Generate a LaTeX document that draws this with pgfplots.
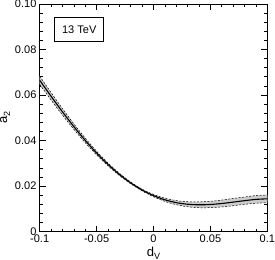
\documentclass[border=0pt]{standalone}
\usepackage{fontspec}
\setmainfont{Liberation Sans}
\usepackage{pgfplots}
\usepackage{pgfplotstable}
\pgfplotsset{compat=1.18}
\usepgfplotslibrary{fillbetween}

\pgfplotstableread{
x      c        lo       hi
-0.10  0.06650  0.06470  0.06830
-0.09  0.05944  0.05784  0.06104
-0.08  0.05261  0.05121  0.05401
-0.07  0.04612  0.04492  0.04732
-0.06  0.04006  0.03906  0.04106
-0.05  0.03450  0.03370  0.03530
-0.04  0.02951  0.02891  0.03011
-0.03  0.02512  0.02462  0.02562
-0.02  0.02137  0.02097  0.02177
-0.01  0.01826  0.01786  0.01866
0.00   0.01580  0.01530  0.01630
0.01   0.01396  0.01326  0.01466
0.02   0.01271  0.01181  0.01361
0.03   0.01200  0.01090  0.01310
0.04   0.01176  0.01046  0.01306
0.05   0.01190  0.01050  0.01330
0.06   0.01233  0.01083  0.01383
0.07   0.01294  0.01134  0.01454
0.08   0.01358  0.01198  0.01518
0.09   0.01413  0.01243  0.01583
0.10   0.01440  0.01270  0.01610
}\data

\begin{document}
\begin{tikzpicture}
\begin{axis}[
  scale only axis,
  width=227pt, height=227pt,
  xmin=-0.1, xmax=0.1, ymin=0, ymax=0.1,
  xtick={-0.1,-0.05,0,0.05,0.1},
  xticklabels={-0.1,-0.05,0,0.05,0.1},
  ytick={0,0.02,0.04,0.06,0.08,0.1},
  yticklabels={0,0.02,0.04,0.06,0.08,0.10},
  minor x tick num=4,
  minor y tick num=4,
  tick align=inside,
  xtick pos=both, ytick pos=both,
  major tick length=6pt, minor tick length=3pt,
  axis line style={line width=0.8pt},
  every tick/.style={black, line width=0.6pt},
  tick label style={font=\fontsize{11}{13}\selectfont, inner sep=0pt},
  xticklabel style={yshift=-3pt},
  yticklabel style={xshift=-3pt},
  xlabel={d\raisebox{-0.45ex}{\fontsize{9}{10}\selectfont V}},
  ylabel={a\raisebox{-0.45ex}{\fontsize{9}{10}\selectfont 2}},
  label style={font=\fontsize{13}{15}\selectfont},
  xlabel style={at={(axis description cs:0.5,-0.066)}, anchor=north, inner sep=0pt},
  ylabel style={at={(axis description cs:-0.152,0.5)}, anchor=center, inner sep=0pt},
]
\addplot[draw=none, name path=hi, forget plot, smooth] table[x=x, y=hi] {\data};
\addplot[draw=none, name path=lo, forget plot, smooth] table[x=x, y=lo] {\data};
\addplot[black!20, forget plot] fill between[of=hi and lo];
\addplot[black, line width=0.5pt, smooth, dash pattern=on 2pt off 1.5pt] table[x=x, y=hi] {\data};
\addplot[black, line width=0.5pt, smooth, dash pattern=on 2pt off 1.5pt] table[x=x, y=lo] {\data};
\addplot[black, line width=1.1pt, smooth] table[x=x, y=c] {\data};
\node[draw, line width=0.8pt, fill=white, minimum width=49pt, minimum height=23pt, inner sep=0pt,
      font=\fontsize{11}{13}\selectfont] at (axis cs:-0.0652,0.0888) {13 TeV};
\end{axis}
\end{tikzpicture}
\end{document}
